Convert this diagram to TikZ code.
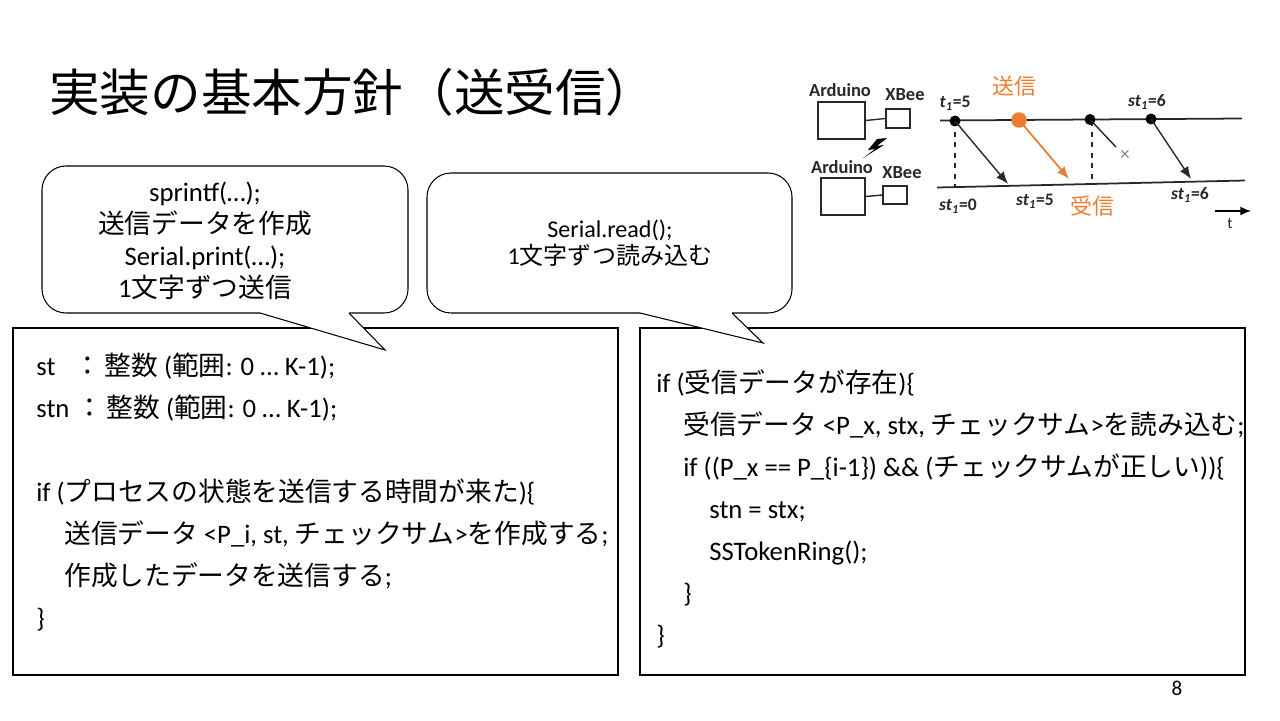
\documentclass[tikz,border=0pt]{standalone}
\usepackage{fontspec}
\setmainfont{Carlito}
\newfontfamily\jpfont{Noto Sans CJK JP}
\newcommand{\jp}[1]{{\jpfont #1}}
\usetikzlibrary{arrows.meta}
\definecolor{sendorange}{RGB}{237,125,49}
\definecolor{diagray}{RGB}{40,40,40}

\begin{document}
\begin{tikzpicture}[x=0.02cm,y=-0.02cm,
	codeline/.style={anchor=base west, inner sep=0pt, font=\fontsize{15.2}{18}\selectfont},
	bubble/.style={draw, fill=white, line width=0.6pt, rounded corners=0.48cm},
	devbox/.style={draw=diagray, line width=0.8pt, inner sep=0pt},
	lbl/.style={inner sep=0pt, text=diagray, font=\bfseries\fontsize{10.5}{12}\selectfont},
	dot/.style={circle, fill=black, inner sep=0pt, minimum size=0.22cm},
	msg/.style={-{Latex[length=7pt,width=5.5pt]}, line width=0.8pt, diagray}]
	\useasboundingbox (0,0) rectangle (1280,720);
	% title
	\node[anchor=base west, inner sep=0pt, font=\jpfont\fontsize{28.8}{32}\selectfont] (title) at (49,111) {実装の基本方針（送受信）};
	% code boxes
	\draw[line width=0.7pt] (13,328) rectangle (618,675);
	\draw[line width=0.7pt] (640,328) rectangle (1245,675);
	% sender side
	\node[codeline] (s1) at (36,375) {st};
	\node[codeline] (s1b) at (74,375) {\jp{：}\hspace{2pt}\jp{整数} (\jp{範囲}: 0 … K-1);};
	\node[codeline] (s2) at (36,417) {stn};
	\node[codeline] (s2b) at (76,417) {\jp{：}\hspace{2pt}\jp{整数} (\jp{範囲}: 0 … K-1);};
	\node[codeline] (s3) at (36,501) {if (\jp{プロセスの状態を送信する時間が来た}){\{}};
	\node[codeline] (s4) at (64,543) {\jp{送信データ} <P\_i, st, \jp{チェックサム}>\jp{を作成する};};
	\node[codeline] (s5) at (64,585) {\jp{作成したデータを送信する};};
	\node[codeline] (s6) at (36,627) {\}};
	% receiver side
	\node[codeline] (r1) at (656,392) {if (\jp{受信データが存在}){\{}};
	\node[codeline] (r2) at (683,434) {\jp{受信データ} <P\_x, stx, \jp{チェックサム}>\jp{を読み込む};};
	\node[codeline] (r3) at (683,476) {if ((P\_x == P\_\{i-1\}) \&\& (\jp{チェックサムが正しい})){\{}};
	\node[codeline] (r4) at (709,518) {stn = stx;};
	\node[codeline] (r5) at (709,560) {SSTokenRing();};
	\node[codeline] (r6) at (683,602) {\}};
	\node[codeline] (r7) at (656,644) {\}};
	% callouts
	\draw[bubble] (42,166) rectangle (408,313);
	\fill[white] (260,313) -- (385,350) -- (349,313) -- (349,310) -- (260,310) -- cycle;
	\draw[line width=0.6pt] (260,313) -- (385,350) -- (349,313);
	\node[align=center, font=\fontsize{15.2}{18.2}\selectfont] (sendnote) at (205,241)
		{sprintf(…);\\\jp{送信データを作成}\\Serial.print(…);\\1\jp{文字ずつ送信}};
	\draw[bubble] (427,173) rectangle (792,313);
	\fill[white] (640,313) -- (763,343) -- (732,313) -- (732,310) -- (640,310) -- cycle;
	\draw[line width=0.6pt] (640,313) -- (763,343) -- (732,313);
	\node[align=center, font=\fontsize{13.7}{15.6}\selectfont] (recvnote) at (610,243)
		{Serial.read();\\1\jp{文字ずつ読み込む}};
	% devices
	\node[devbox, minimum width=0.94cm, minimum height=0.74cm] (ard1) at (841.5,120.5) {};
	\node[devbox, minimum width=0.48cm, minimum height=0.38cm] (xb1) at (898,118.5) {};
	\draw[diagray, line width=0.8pt] (ard1.east) -- (xb1.west);
	\node[lbl] (ard1lbl) at (840,90) {Arduino};
	\node[lbl] (xb1lbl) at (905,95) {XBee};
	\node[devbox, minimum width=0.88cm, minimum height=0.74cm] (ard2) at (843,196.5) {};
	\node[devbox, minimum width=0.48cm, minimum height=0.36cm] (xb2) at (895,195) {};
	\draw[diagray, line width=0.8pt] (ard2.east) -- (xb2.west);
	\node[lbl] (ard2lbl) at (842,167) {Arduino};
	\node[lbl] (xb2lbl) at (902,173) {XBee};
	\fill[black] (887,138) -- (877,139) -- (868,150) -- (875,149) -- (863,158) -- (884,145) -- (877,146) -- cycle;
	% time lines
	\coordinate (topL) at (940,120.5);
	\coordinate (topR) at (1242,118.5);
	\coordinate (botL) at (937,187.5);
	\coordinate (botR) at (1245,180.5);
	\draw[diagray, line width=1pt] (topL) -- (topR);
	\draw[diagray, line width=1pt] (botL) -- (botR);
	\draw[dashed, diagray, line width=0.6pt] (955,121) -- (955,187);
	\draw[dashed, diagray, line width=0.6pt] (1092,121) -- (1092,184);
	\node[dot] (e1) at (955,121) {};
	\node[dot, fill=sendorange, minimum size=0.31cm] (e2) at (1019,120) {};
	\node[dot] (e3) at (1090,119.5) {};
	\node[dot] (e4) at (1151,119) {};
	\coordinate (a1) at (1008,184);
	\coordinate (a2) at (1069,179);
	\coordinate (a3) at (1116,147);
	\coordinate (a4) at (1191,179);
	\draw[msg] (e1.center) -- (a1);
	\draw[msg, sendorange, line width=1pt] (e2.center) -- (a2);
	\draw[line width=0.8pt, diagray] (e3.center) -- (a3);
	\draw[msg] (e4.center) -- (a4);
	\node[inner sep=0pt, text=gray, font=\fontsize{11}{12}\selectfont] (lost) at (1125,155) {×};
	% labels
	\node[lbl, font=\bfseries\fontsize{10}{12}\selectfont] (t1) at (955,103) {\textit{t}\textsubscript{\textit{1}}=5};
	\node[lbl, font=\bfseries\fontsize{10}{12}\selectfont] (st6a) at (1147,102) {\textit{st}\textsubscript{\textit{1}}=6};
	\node[lbl, font=\bfseries\fontsize{10}{12}\selectfont] (st0) at (958,206) {\textit{st}\textsubscript{\textit{1}}=0};
	\node[lbl, font=\bfseries\fontsize{10}{12}\selectfont] (st5) at (1035,201) {\textit{st}\textsubscript{\textit{1}}=5};
	\node[lbl, font=\bfseries\fontsize{10}{12}\selectfont] (st6b) at (1190,195) {\textit{st}\textsubscript{\textit{1}}=6};
	\node[inner sep=0pt, text=sendorange, font=\jpfont\fontsize{12.5}{14}\selectfont] (sendlbl) at (1014,86) {送信};
	\node[inner sep=0pt, text=sendorange, font=\jpfont\fontsize{12.5}{14}\selectfont] (recvlbl) at (1092,206) {受信};
	\coordinate (tL) at (1215,211);
	\coordinate (tR) at (1251,211);
	\draw[-{Latex[length=6pt,width=5pt]}, line width=0.8pt] (tL) -- (tR);
	\node[inner sep=0pt, text=diagray, font=\fontsize{9}{10}\selectfont] (tlbl) at (1230,224) {t};
	% page number
	\node[inner sep=0pt, font=\fontsize{12}{13}\selectfont] (pageno) at (1177,688) {8};
\end{tikzpicture}
\end{document}
